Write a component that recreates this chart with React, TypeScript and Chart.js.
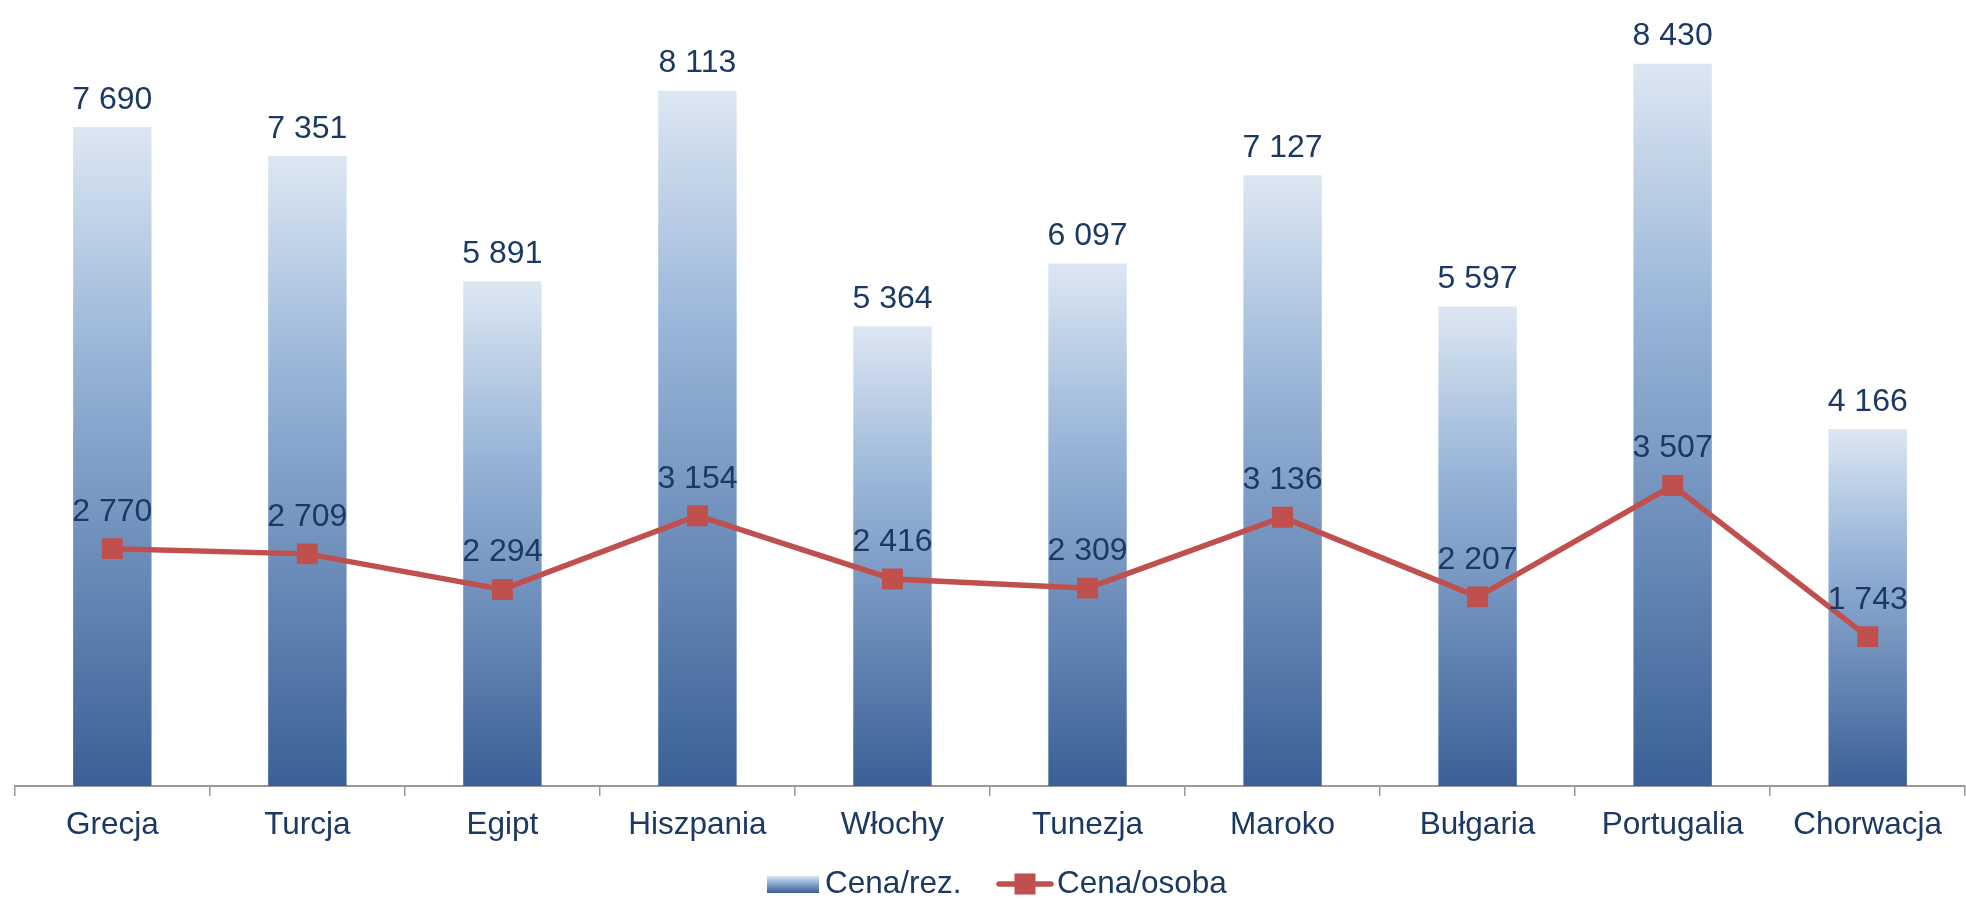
import React, { useEffect, useRef } from "react";
import { Chart, registerables } from "chart.js";

Chart.register(...registerables);

const categories = ["Grecja", "Turcja", "Egipt", "Hiszpania", "Włochy", "Tunezja", "Maroko", "Bułgaria", "Portugalia", "Chorwacja"];
const pricePerBooking = [7690, 7351, 5891, 8113, 5364, 6097, 7127, 5597, 8430, 4166];
const pricePerPerson = [2770, 2709, 2294, 3154, 2416, 2309, 3136, 2207, 3507, 1743];
const seriesNames = ["Cena/rez.", "Cena/osoba"];
const yMax = 9000;

const FONT = '"Liberation Sans", Arial, sans-serif';
const TEXT = "#1B3962";
const RED = "#C0504D";

const fmt = (v: number) => String(v).replace(/\B(?=(\d{3})+(?!\d))/g, " ");

function barGradient(c: CanvasRenderingContext2D, top: number, bottom: number) {
  const g = c.createLinearGradient(0, top, 0, bottom);
  g.addColorStop(0, "#DDE7F2");
  g.addColorStop(0.35, "#97B4D8");
  g.addColorStop(1, "#3A6096");
  return g;
}

const labelsPlugin = {
  id: "valueLabels",
  afterDatasetsDraw(chart: any) {
    const c: CanvasRenderingContext2D = chart.ctx;
    c.save();
    c.font = `32px ${FONT}`;
    c.fillStyle = TEXT;
    c.textAlign = "center";
    c.textBaseline = "alphabetic";
    chart.data.datasets.forEach((ds: any, di: number) => {
      const meta = chart.getDatasetMeta(di);
      meta.data.forEach((el: any, i: number) => {
        const v = ds.data[i] as number;
        const off = ds.type === "bar" ? 18.5 : 28;
        c.fillText(fmt(v), el.x, el.y - off);
      });
    });
    c.restore();
  },
  afterDraw(chart: any) {
    const c: CanvasRenderingContext2D = chart.ctx;
    c.save();
    c.fillStyle = barGradient(c, 876, 893);
    c.fillRect(767, 876, 52, 17);
    c.font = `31.5px ${FONT}`;
    c.fillStyle = TEXT;
    c.textAlign = "left";
    c.textBaseline = "alphabetic";
    c.fillText(seriesNames[0], 825, 893);
    c.strokeStyle = RED;
    c.lineWidth = 5.5;
    c.lineCap = "round";
    c.beginPath();
    c.moveTo(999, 884);
    c.lineTo(1051, 884);
    c.stroke();
    c.fillStyle = RED;
    c.fillRect(1014.5, 873.5, 21, 21);
    c.fillStyle = TEXT;
    c.fillText(seriesNames[1], 1057, 893);
    c.restore();
  },
};

export default function App() {
  const ref = useRef<HTMLCanvasElement>(null);
  useEffect(() => {
    if (!ref.current) return;
    const chart = new Chart(ref.current, {
      type: "bar",
      data: {
        labels: categories,
        datasets: [
          {
            type: "line",
            label: seriesNames[1],
            data: pricePerPerson,
            borderColor: RED,
            backgroundColor: RED,
            borderWidth: 5.5,
            pointStyle: "rect",
            pointRadius: 14.8,
            pointBorderWidth: 0,
            pointBackgroundColor: RED,
            tension: 0,
            order: 0,
          } as any,
          {
            type: "bar",
            label: seriesNames[0],
            data: pricePerBooking,
            categoryPercentage: 1,
            barPercentage: 0.402,
            borderWidth: 0,
            order: 1,
            backgroundColor: (ctx: any) => {
              const chart = ctx.chart;
              const area = chart.chartArea;
              if (!area || ctx.raw == null) return "#6A8EBE";
              const y = chart.scales.y;
              return barGradient(chart.ctx, y.getPixelForValue(ctx.raw), y.getPixelForValue(0));
            },
          } as any,
        ],
      },
      options: {
        animation: false,
        responsive: true,
        maintainAspectRatio: false,
        layout: { padding: { top: 6, left: 11.6, right: 7.4, bottom: 0 } },
        plugins: {
          legend: { display: false },
          tooltip: { enabled: false },
        },
        scales: {
          x: {
            offset: true,
            grid: {
              display: true,
              drawOnChartArea: false,
              drawTicks: true,
              tickLength: 10,
              color: "#9A9A9A",
              lineWidth: 1.5,
              offset: true,
            },
            border: { display: true, color: "#9A9A9A", width: 2 },
            ticks: {
              color: TEXT,
              font: { family: FONT, size: 31.5 },
              padding: 10,
              maxRotation: 0,
              autoSkip: false,
            },
            afterFit: (axis: any) => {
              axis.height = 113;
            },
          },
          y: {
            display: false,
            min: 0,
            max: yMax,
          },
        },
      },
      plugins: [labelsPlugin],
    });
    return () => chart.destroy();
  }, []);

  return (
    <div style={{ position: "fixed", left: 0, top: 0, width: 1966, height: 899, overflow: "hidden", background: "#fff" }}>
      <div style={{ position: "relative", width: 1980, height: 899 }}>
        <canvas ref={ref} />
      </div>
    </div>
  );
}
